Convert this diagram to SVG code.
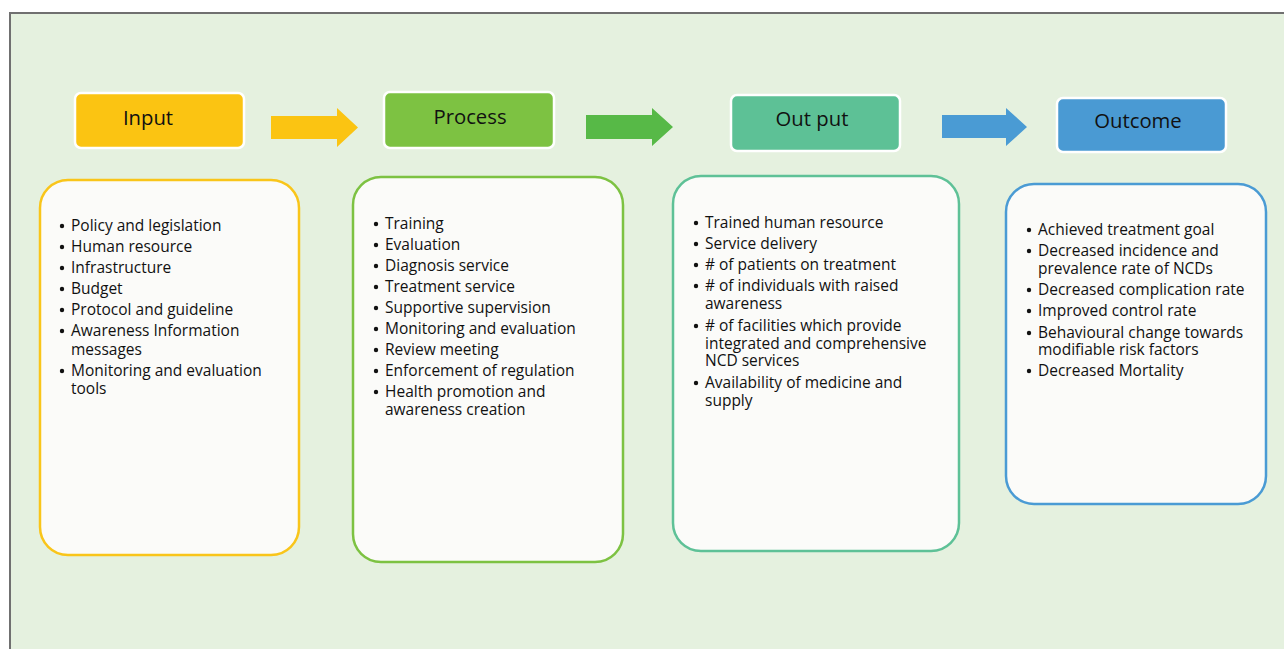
<svg xmlns="http://www.w3.org/2000/svg" width="1284" height="649" viewBox="0 0 1284 649">
  <style>
    .frame { fill: #E5F1DF; stroke: #707070; stroke-width: 2; }
    .head { stroke: #FFFFFF; stroke-width: 2.5; }
    .head-text { font-family: "Open Sans", Lato, sans-serif; font-size: 20.3px; fill: #111111; text-anchor: middle; }
    .card { fill: #FBFBF9; stroke-width: 2.5; }
    .item { font-family: "Open Sans", Lato, sans-serif; font-size: 15.5px; fill: #111111; }
    .dot { fill: #111111; }
  </style>

  <!-- background panel -->
  <path class="frame" d="M1290 13 H10 V660 H1290 Z"/>

  <!-- connectors: block arrows between stages -->
  <g id="connectors">
    <polygon fill="#FBC412" points="271,116 337,116 337,108 358,127.5 337,147 337,139 271,139"/>
    <polygon fill="#57B947" points="586,115 652,115 652,108 673,127 652,146 652,139 586,139"/>
    <polygon fill="#4A9BD4" points="942,115 1006,115 1006,108 1027,127 1006,146 1006,138 942,138"/>
  </g>

  <!-- Input -->
  <g id="input">
    <rect class="head" x="75" y="93" width="169" height="55" rx="6" fill="#FBC412"/>
    <text class="head-text" x="148" y="125">Input</text>
    <rect class="card" x="40" y="180" width="259" height="375" rx="28" stroke="#F9C51A"/>
    <g class="item">
      <text x="71" y="231">Policy and legislation</text>
      <text x="71" y="252">Human resource</text>
      <text x="71" y="273">Infrastructure</text>
      <text x="71" y="294">Budget</text>
      <text x="71" y="315">Protocol and guideline</text>
      <text x="71" y="336">Awareness Information<tspan x="71" dy="19">messages</tspan></text>
      <text x="71" y="376">Monitoring and evaluation<tspan x="71" dy="18">tools</tspan></text>
    </g>
    <g class="dot">
      <circle cx="62" cy="226" r="2.2"/>
      <circle cx="62" cy="247" r="2.2"/>
      <circle cx="62" cy="268" r="2.2"/>
      <circle cx="62" cy="289" r="2.2"/>
      <circle cx="62" cy="310" r="2.2"/>
      <circle cx="62" cy="331" r="2.2"/>
      <circle cx="62" cy="371" r="2.2"/>
    </g>
  </g>

  <!-- Process -->
  <g id="process">
    <rect class="head" x="384" y="92" width="170" height="56" rx="6" fill="#7DC242"/>
    <text class="head-text" x="470" y="124">Process</text>
    <rect class="card" x="353" y="177" width="270" height="385" rx="28" stroke="#7DC242"/>
    <g class="item">
      <text x="385" y="229">Training</text>
      <text x="385" y="250">Evaluation</text>
      <text x="385" y="271">Diagnosis service</text>
      <text x="385" y="292">Treatment service</text>
      <text x="385" y="313">Supportive supervision</text>
      <text x="385" y="334">Monitoring and evaluation</text>
      <text x="385" y="355">Review meeting</text>
      <text x="385" y="376">Enforcement of regulation</text>
      <text x="385" y="397">Health promotion and<tspan x="385" dy="18">awareness creation</tspan></text>
    </g>
    <g class="dot">
      <circle cx="376" cy="224" r="2.2"/>
      <circle cx="376" cy="245" r="2.2"/>
      <circle cx="376" cy="266" r="2.2"/>
      <circle cx="376" cy="287" r="2.2"/>
      <circle cx="376" cy="308" r="2.2"/>
      <circle cx="376" cy="329" r="2.2"/>
      <circle cx="376" cy="350" r="2.2"/>
      <circle cx="376" cy="371" r="2.2"/>
      <circle cx="376" cy="392" r="2.2"/>
    </g>
  </g>

  <!-- Output -->
  <g id="output">
    <rect class="head" x="731" y="95" width="169" height="56" rx="6" fill="#5DC196"/>
    <text class="head-text" x="812" y="126">Out put</text>
    <rect class="card" x="673" y="176" width="286" height="375" rx="28" stroke="#5EC197"/>
    <g class="item">
      <text x="705" y="228">Trained human resource</text>
      <text x="705" y="249">Service delivery</text>
      <text x="705" y="270"># of patients on treatment</text>
      <text x="705" y="291"># of individuals with raised<tspan x="705" dy="18">awareness</tspan></text>
      <text x="705" y="331"># of facilities which provide<tspan x="705" dy="17.5">integrated and comprehensive</tspan><tspan x="705" dy="17.5">NCD services</tspan></text>
      <text x="705" y="388">Availability of medicine and<tspan x="705" dy="18">supply</tspan></text>
    </g>
    <g class="dot">
      <circle cx="696" cy="223" r="2.2"/>
      <circle cx="696" cy="244" r="2.2"/>
      <circle cx="696" cy="265" r="2.2"/>
      <circle cx="696" cy="286" r="2.2"/>
      <circle cx="696" cy="326" r="2.2"/>
      <circle cx="696" cy="383" r="2.2"/>
    </g>
  </g>

  <!-- Outcome -->
  <g id="outcome">
    <rect class="head" x="1057" y="98" width="169" height="54" rx="6" fill="#4A9AD3"/>
    <text class="head-text" x="1138" y="128">Outcome</text>
    <rect class="card" x="1006" y="184" width="260" height="320" rx="28" stroke="#4A9BD4"/>
    <g class="item">
      <text x="1038" y="235">Achieved treatment goal</text>
      <text x="1038" y="256">Decreased incidence and<tspan x="1038" dy="18">prevalence rate of NCDs</tspan></text>
      <text x="1038" y="295">Decreased complication rate</text>
      <text x="1038" y="316">Improved control rate</text>
      <text x="1038" y="338">Behavioural change towards<tspan x="1038" dy="17">modifiable risk factors</tspan></text>
      <text x="1038" y="376">Decreased Mortality</text>
    </g>
    <g class="dot">
      <circle cx="1029" cy="230" r="2.2"/>
      <circle cx="1029" cy="251" r="2.2"/>
      <circle cx="1029" cy="290" r="2.2"/>
      <circle cx="1029" cy="311" r="2.2"/>
      <circle cx="1029" cy="333" r="2.2"/>
      <circle cx="1029" cy="371" r="2.2"/>
    </g>
  </g>
</svg>
